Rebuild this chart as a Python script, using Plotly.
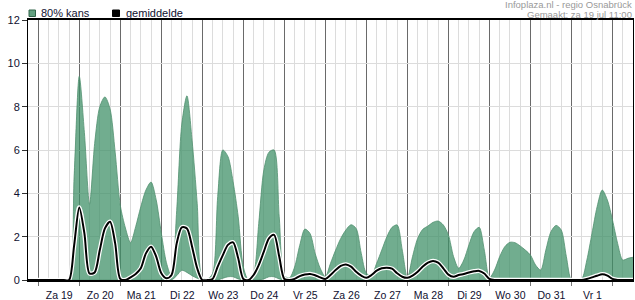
import plotly.graph_objects as go

# time axis: hours relative to Za 19 jul 00:00, sampled every 3 hours
hours = list(range(-6, 349, 3))

upper = [0, 0, 0, 0, 0, 0, 0, 0,
         0, 4.8, 9.4, 6.8, 3.5, 6.3, 8.0, 8.45, 7.9, 5.9,
         3.45, 2.4, 1.72, 2.46, 3.38, 4.15, 4.52, 3.7, 2.17, 0.8,
         0.15, 3.2, 7.2, 8.5, 6.45, 3.54, 0.1, 0.05, 0.3, 3.85,
         6.0, 5.7, 4.54, 2.92, 0.6, 0, 0.3, 2.6, 5.08, 5.9,
         6.0, 2.92, 0.2, 0.1, 0.6, 1.6, 2.35, 2.15, 1.23, 0.54,
         0.15, 0.77, 1.38, 1.92, 2.31, 2.55, 2.38, 1.23, 0.31, 0.23,
         0.77, 1.38, 2.0, 2.43, 2.54, 1.38, 0.1, 1.08, 1.92, 2.34,
         2.49, 2.66, 2.72, 2.54, 2.08, 1.08, 0.54, 0.92, 1.62, 2.23,
         2.43, 1.38, 0.1, 0.46, 1.08, 1.54, 1.74, 1.72, 1.57, 1.38,
         1.15, 0.69, 0.46, 1.38, 2.23, 2.52, 2.31, 1.08, 0, 0,
         0.05, 0.92, 2.15, 3.38, 4.15, 3.69, 2.77, 1.69, 0.92, 1.0,
         1.05]

lower = [0, 0, 0, 0, 0, 0, 0, 0,
         0, 0, 0, 0, 0, 0, 0, 0, 0, 0,
         0, 0, 0, 0, 0, 0, 0, 0, 0, 0,
         0, 0.2, 0.45, 0.35, 0.2, 0.08, 0, 0, 0, 0,
         0.08, 0.15, 0.15, 0.05, 0, 0, 0, 0, 0.05, 0.15,
         0.15, 0.05, 0, 0, 0, 0, 0, 0, 0, 0,
         0, 0, 0, 0, 0, 0, 0, 0, 0, 0,
         0, 0, 0, 0, 0, 0, 0, 0, 0, 0,
         0, 0, 0, 0, 0, 0, 0, 0, 0, 0,
         0, 0, 0, 0, 0, 0, 0, 0, 0, 0,
         0, 0, 0, 0, 0, 0, 0, 0, 0, 0,
         0, 0, 0.05, 0.18, 0.28, 0.2, 0.05, 0, 0, 0,
         0]

mean = [0, 0, 0, 0, 0, 0, 0, 0,
        0, 1.6, 3.35, 2.15, 0.3, 0.35, 1.38, 2.38, 2.69, 1.69,
        0.05, 0, 0.12, 0.28, 0.54, 1.23, 1.54, 1.08, 0.31, 0.08,
        0.23, 1.69, 2.43, 2.38, 1.54, 0.54, 0, 0, 0.05, 0.62,
        1.15, 1.62, 1.74, 1.0, 0.05, 0, 0.23, 0.69, 1.31, 1.92,
        2.08, 1.08, 0.05, 0, 0.05, 0.18, 0.25, 0.28, 0.22, 0.12,
        0.05, 0.23, 0.46, 0.65, 0.72, 0.62, 0.38, 0.2, 0.1, 0.23,
        0.43, 0.54, 0.57, 0.52, 0.31, 0.15, 0.1, 0.2, 0.38, 0.62,
        0.8, 0.88, 0.8, 0.54, 0.25, 0.15, 0.23, 0.28, 0.35, 0.4,
        0.42, 0.3, 0.05, 0, 0, 0, 0, 0, 0, 0,
        0, 0, 0, 0, 0, 0, 0, 0, 0, 0,
        0, 0.05, 0.12, 0.2, 0.26, 0.2, 0.05, 0, 0, 0,
        0]

day_ticks = [0, 24, 48, 72, 96, 120, 144, 168, 192, 216, 240, 264, 288, 312, 336]
day_labels = ["Za 19", "Zo 20", "Ma 21", "Di 22", "Wo 23", "Do 24", "Vr 25",
              "Za 26", "Zo 27", "Ma 28", "Di 29", "Wo 30", "Do 31", "Vr 1", ""]
y_ticks = [0, 2, 4, 6, 8, 10, 12]

GREEN_FILL = "rgba(64,145,104,0.74)"
GREEN_LINE = "rgb(82,145,112)"
TXT = "#101030"

fig = go.Figure()
fig.add_trace(go.Scatter(x=hours, y=lower, mode="lines",
                         line=dict(color=GREEN_LINE, width=0.8, shape="spline", smoothing=0.8),
                         hoverinfo="skip", name="80% kans (onder)"))
fig.add_trace(go.Scatter(x=hours, y=upper, mode="lines", fill="tonexty",
                         fillcolor=GREEN_FILL,
                         line=dict(color=GREEN_LINE, width=0.8, shape="spline", smoothing=0.8),
                         name="80% kans"))
fig.add_trace(go.Scatter(x=hours, y=mean, mode="lines",
                         line=dict(color="white", width=4.5, shape="spline", smoothing=0.8),
                         hoverinfo="skip", name="halo"))
fig.add_trace(go.Scatter(x=hours, y=mean, mode="lines",
                         line=dict(color="black", width=2, shape="spline", smoothing=0.8),
                         name="gemiddelde"))

W, H = 635, 300
L, R, T, B = 28, 2, 20, 20
pw, ph = W - L - R, H - T - B

def px_x(p):
    return (p - L) / pw

def px_y(p):
    return 1 + (T - p) / ph

fig.update_layout(
    width=W, height=H,
    margin=dict(l=L, r=R, t=T, b=B),
    plot_bgcolor="white", paper_bgcolor="white",
    showlegend=False,
    font=dict(family="Liberation Sans, Arial, sans-serif", size=11, color=TXT),
    xaxis=dict(
        range=[-6, 348], tickmode="array", tickvals=day_ticks, ticktext=day_labels,
        ticklabelshift=21, ticks="outside", ticklen=4, tickcolor="#777",
        showgrid=True, gridcolor="#6a6a6a", gridwidth=1,
        minor=dict(tickmode="linear", tick0=0, dtick=6, showgrid=True,
                   gridcolor="#dcdcdc", gridwidth=1, ticks=""),
        showline=True, linecolor="black", linewidth=2, mirror=True,
        zeroline=False, automargin=False, tickfont=dict(size=10.5, color=TXT),
    ),
    yaxis=dict(
        range=[0, 12], tickmode="array", tickvals=y_ticks,
        ticks="outside", ticklen=5, tickcolor="#333",
        showgrid=True, gridcolor="#dcdcdc", gridwidth=1,
        showline=True, linecolor="black", linewidth=1, mirror=True,
        zeroline=False, automargin=False, tickfont=dict(size=11, color=TXT),
    ),
    shapes=[
        dict(type="rect", xref="paper", yref="paper",
             x0=px_x(29), x1=px_x(35.5), y0=px_y(16.5), y1=px_y(10),
             fillcolor="rgb(98,160,128)", line=dict(color="rgb(50,100,75)", width=1)),
        dict(type="rect", xref="paper", yref="paper",
             x0=px_x(112.5), x1=px_x(119.5), y0=px_y(16.5), y1=px_y(10),
             fillcolor="black", line=dict(color="black", width=1)),
    ],
    annotations=[
        dict(text="80% kans", xref="paper", yref="paper", x=px_x(38.5), y=px_y(13),
             xanchor="left", yanchor="middle", showarrow=False,
             font=dict(size=11, color=TXT)),
        dict(text="gemiddelde", xref="paper", yref="paper", x=px_x(123.5), y=px_y(13),
             xanchor="left", yanchor="middle", showarrow=False,
             font=dict(size=11, color=TXT)),
        dict(text="Infoplaza.nl - regio Osnabrück", xref="paper", yref="paper",
             x=px_x(634), y=px_y(5), xanchor="right", yanchor="middle", showarrow=False,
             font=dict(size=9.5, color="#999999")),
        dict(text="Gemaakt: za 19 jul 11:00", xref="paper", yref="paper",
             x=px_x(634), y=px_y(14.5), xanchor="right", yanchor="middle", showarrow=False,
             font=dict(size=9.5, color="#999999")),
    ],
)

fig.write_html("out.html")
